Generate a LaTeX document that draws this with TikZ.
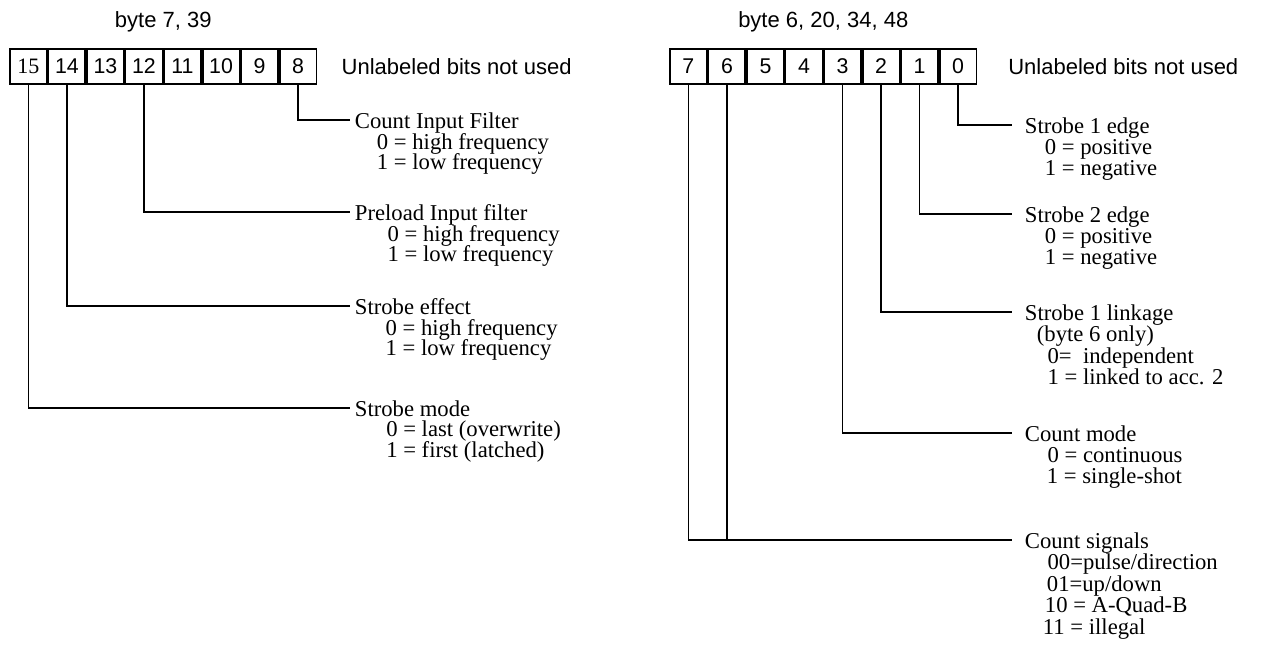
\documentclass[tikz,border=0pt]{standalone}
\usepackage{fontspec}
\setmainfont{Liberation Serif}
\setsansfont{Liberation Sans}
\usetikzlibrary{positioning,calc}

\begin{document}
\begin{tikzpicture}[
    x=0.75pt,
    y=-0.75pt,
    node distance=0pt,
    bit/.style={
        draw,
        line width=1.3pt,
        minimum width=27.6pt,
        minimum height=26.4pt,
        inner sep=0pt,
        font=\sffamily\fontsize{16}{16}\selectfont
    },
    head/.style={
        inner sep=0pt,
        font=\sffamily\fontsize{16.5}{16.5}\selectfont
    },
    wire/.style={
        draw,
        line width=1.3pt
    },
    field/.style={
        anchor=west,
        inner ysep=0pt,
        inner xsep=3.5pt,
        text height=12pt,
        text depth=0pt,
        font=\fontsize{17}{15.5}\selectfont
    },
    rfield/.style={
        field,
        inner xsep=9.5pt
    },
    values/.style={
        inner sep=0pt,
        align=left,
        font={\fontsize{17}{15.5}\selectfont\lineskiplimit-30pt\relax},
        execute at begin node={\rule{0pt}{12pt}}
    },
    rvalues/.style={
        values,
        font={\fontsize{17}{16.1}\selectfont\lineskiplimit-30pt\relax}
    }
]
    \useasboundingbox (0,0) rectangle (1264,646);

    % left register, bits 15..8
    \node[bit,font=\rmfamily\fontsize{16.5}{16.5}\selectfont] (b15) at (28.4,66.5) {15};
    \foreach \n [remember=\n as \p (initially 15)] in {14,13,...,8}
        \node[bit,right=of b\p] (b\n) {\n};
    \node[head,above=12pt of b12.north east] (hdl) {byte 7, 39};
    \node[head,right=18pt of b8] (nul) {Unlabeled bits not used};

    % right register, bits 7..0
    \node[bit] (r7) at (688.4,66.5) {7};
    \foreach \n [remember=\n as \p (initially 7)] in {6,5,...,0}
        \node[bit,right=of r\p] (r\n) {\n};
    \node[head,above=12pt of r4.north east] (hdr) {byte 6, 20, 34, 48};
    \node[head,right=23pt of r0] (nur) {Unlabeled bits not used};

    % left fields
    \node[field] (cif) at (350,120) {Count Input Filter};
    \node[values,below right=3.5pt and 3.5pt of cif.south west] (cifv)
        {\hspace*{16.5pt}0 = high frequency\\\hspace*{16.5pt}1 = low frequency};
    \node[field] (pif) at (350,212) {Preload Input filter};
    \node[values,below right=3.5pt and 3.5pt of pif.south west] (pifv)
        {\hspace*{24.5pt}0 = high frequency\\\hspace*{24.5pt}1 = low frequency};
    \node[field] (seff) at (350,306) {Strobe effect};
    \node[values,below right=3.5pt and 3.5pt of seff.south west] (seffv)
        {\hspace*{23pt}0 = high frequency\\\hspace*{23pt}1 = low frequency};
    \node[field] (smode) at (350,408) {Strobe mode};
    \node[values,below right=3.5pt and 3.5pt of smode.south west] (smodev)
        {\hspace*{23.5pt}0 = last (overwrite)\\\hspace*{23.5pt}1 = first (latched)};

    % right fields
    \node[rfield] (s1e) at (1012,125) {Strobe 1 edge};
    \node[rvalues,below right=4.1pt and 9.5pt of s1e.south west] (s1ev)
        {\hspace*{15pt}0 = positive\\\hspace*{15pt}1 = negative};
    \node[rfield] (s2e) at (1012,214) {Strobe 2 edge};
    \node[rvalues,below right=4.1pt and 9.5pt of s2e.south west] (s2ev)
        {\hspace*{15pt}0 = positive\\\hspace*{15pt}1 = negative};
    \node[rfield] (s1l) at (1012,312) {Strobe 1 linkage};
    \node[rvalues,below right=4.1pt and 9.5pt of s1l.south west] (s1lv)
        {\hspace*{9pt}(byte 6 only)\\\hspace*{17pt}0= \ independent\\\hspace*{17pt}1 = linked to acc. 2};
    \node[rfield] (cmode) at (1012,433) {Count mode};
    \node[rvalues,below right=4.1pt and 9.5pt of cmode.south west] (cmodev)
        {\hspace*{17pt}0 = continuous\\\hspace*{16.5pt}1 = single-shot};
    \node[rfield] (csig) at (1012,540) {Count signals};
    \node[rvalues,below right=4.1pt and 9.5pt of csig.south west] (csigv)
        {\hspace*{17pt}00=pulse/direction\\\hspace*{16.5pt}01=up/down\\\hspace*{15pt}10 = A-Quad-B\\\hspace*{13.5pt}11 = illegal};

    % bit connectors
    \path[wire] (b8.south) |- (cif.west);
    \path[wire] (b12.south) |- (pif.west);
    \path[wire] (b14.south) |- (seff.west);
    \path[wire] (b15.south) |- (smode.west);
    \path[wire] (r0.south) |- (s1e.west);
    \path[wire] (r1.south) |- (s2e.west);
    \path[wire] (r2.south) |- (s1l.west);
    \path[wire] (r3.south) |- (cmode.west);
    \path[wire] (r7.south) |- (csig.west);
    \path[wire] (r6.south) -- (r6.south |- csig.west);
\end{tikzpicture}
\end{document}
